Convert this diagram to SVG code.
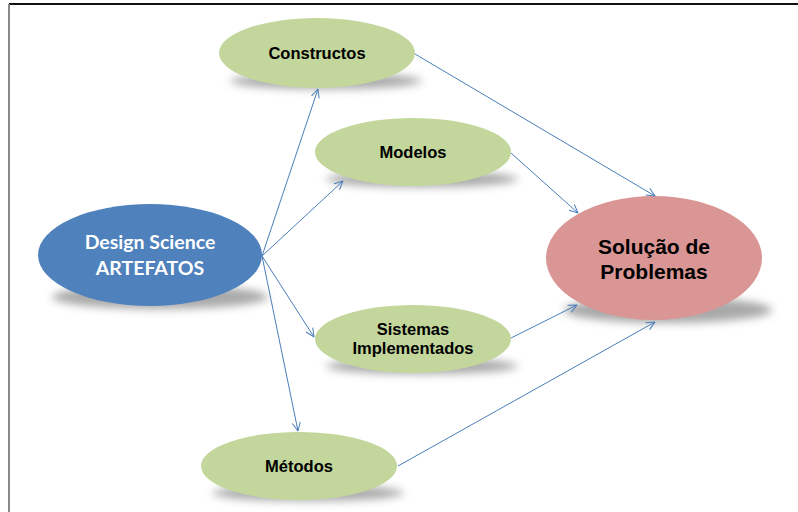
<svg xmlns="http://www.w3.org/2000/svg" width="798" height="512" viewBox="0 0 798 512">
<defs>
<filter id="blur" x="-30%" y="-100%" width="160%" height="300%"><feGaussianBlur stdDeviation="4"/></filter>
<marker id="arr" viewBox="0 0 10 10" refX="9.5" refY="5" markerWidth="10" markerHeight="10" markerUnits="userSpaceOnUse" orient="auto">
<path d="M1,1 L9.5,5 L1,9" fill="none" stroke="#4A7EBB" stroke-width="1"/>
</marker>
<style>
.green{fill:#C3D69B}
.shadow{fill:#8c8c8c;opacity:0.75;filter:url(#blur)}
.lbl{font-family:"Liberation Sans",Arial,sans-serif;font-weight:bold;font-size:16.5px;fill:#000;text-anchor:middle}
.conn line{stroke:#4A7EBB;stroke-width:1;marker-end:url(#arr)}
</style>
</defs>
<rect x="0" y="0" width="798" height="512" fill="#fff"/>
<line x1="9" y1="4" x2="798" y2="4" stroke="#111" stroke-width="2"/>
<line x1="9" y1="4" x2="9" y2="512" stroke="#888" stroke-width="2"/>

<g id="design-science">
<ellipse class="shadow" cx="160" cy="297" rx="108" ry="12"/>
<ellipse cx="150" cy="255" rx="112" ry="51" fill="#4F81BD"/>
<text x="150" y="249" text-anchor="middle" font-family="Lato,'Open Sans',sans-serif" font-weight="bold" font-size="19.5" fill="#fff">Design Science</text>
<text x="150" y="275" text-anchor="middle" font-family="Lato,'Open Sans',sans-serif" font-weight="bold" font-size="19.5" fill="#fff">ARTEFATOS</text>
</g>

<g id="constructos">
<ellipse class="shadow" cx="326" cy="81" rx="96" ry="8"/>
<ellipse class="green" cx="317" cy="53" rx="98" ry="35"/>
<text class="lbl" x="317" y="59">Constructos</text>
</g>

<g id="modelos">
<ellipse class="shadow" cx="422" cy="179" rx="96" ry="8"/>
<ellipse class="green" cx="413" cy="152" rx="98" ry="34"/>
<text class="lbl" x="413" y="158">Modelos</text>
</g>

<g id="sistemas">
<ellipse class="shadow" cx="422" cy="366" rx="96" ry="8"/>
<ellipse class="green" cx="413" cy="339" rx="98" ry="34"/>
<text class="lbl" x="413" y="335">Sistemas</text>
<text class="lbl" x="413" y="354">Implementados</text>
</g>

<g id="metodos">
<ellipse class="shadow" cx="308" cy="493" rx="96" ry="8"/>
<ellipse class="green" cx="299" cy="466" rx="98" ry="34"/>
<text class="lbl" x="299" y="472">Métodos</text>
</g>

<g id="solucao">
<ellipse class="shadow" cx="668" cy="310" rx="104" ry="13"/>
<ellipse cx="654" cy="258" rx="108" ry="62" fill="#D99694"/>
<text x="654" y="254" text-anchor="middle" font-family="'Liberation Sans',Arial,sans-serif" font-weight="bold" font-size="21" fill="#000">Solução de</text>
<text x="654" y="279" text-anchor="middle" font-family="'Liberation Sans',Arial,sans-serif" font-weight="bold" font-size="21" fill="#000">Problemas</text>
</g>

<g id="connectors" class="conn">
<line x1="262" y1="256" x2="318" y2="89"/>
<line x1="262" y1="256" x2="343" y2="181"/>
<line x1="262" y1="256" x2="314" y2="337"/>
<line x1="262" y1="256" x2="298" y2="431"/>
<line x1="415" y1="54" x2="655" y2="196"/>
<line x1="511" y1="153" x2="578" y2="213"/>
<line x1="511" y1="338" x2="577" y2="305"/>
<line x1="398" y1="466" x2="655" y2="322"/>
</g>
</svg>
